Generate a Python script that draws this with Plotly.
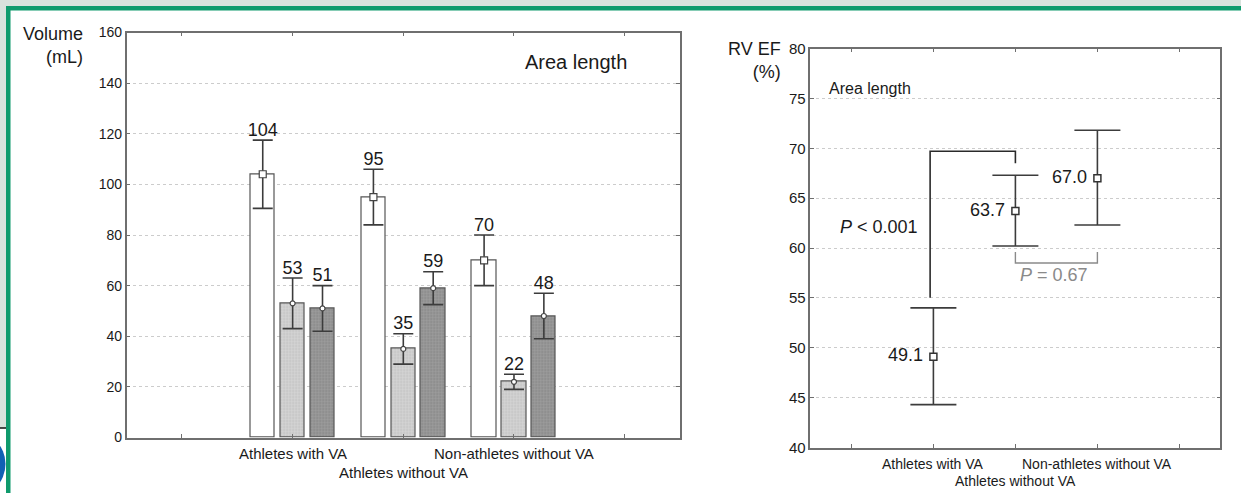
import plotly.graph_objects as go

# ---------------- data ----------------
groups = ["Athletes with VA", "Athletes without VA", "Non-athletes without VA"]
group_pos = [1, 2, 3]
label_row = [0, 1, 0]  # staggered category labels (0 = upper line, 1 = lower line)

# left panel: volumes (mL), area-length method
vol_white = [104, 95, 70]
vol_white_err = [13.5, 11, 10]
vol_light = [53, 35, 22]
vol_light_err = [10, 6, 3]
vol_dark = [51, 59, 48]
vol_dark_err = [9, 6.5, 9]

# right panel: RV EF (%)
ef_mean = [49.1, 63.7, 67.0]
ef_err_plus = [4.9, 3.6, 4.8]
ef_err_minus = [4.8, 3.5, 4.7]

left_yticks = [0, 20, 40, 60, 80, 100, 120, 140, 160]
right_yticks = [40, 45, 50, 55, 60, 65, 70, 75, 80]

# ---------------- styling helpers ----------------
W, H = 1241, 493
FONT = "Liberation Sans, Arial, sans-serif"
TXT = "#1a1a1a"
FRAME = "#6f6f6f"
ERR = "#3c3c3c"


def px_x(p):
    return p / W


def px_y(p):
    return 1 - p / H


offsets = [-0.27, 0.0, 0.27]
bar_w = 0.22

fig = go.Figure()

# ---- left panel bars ----
series = [
    (vol_white, vol_white_err, "white", None, True),
    (vol_light, vol_light_err, "#d4d4d4", "#a8a8a8", False),
    (vol_dark, vol_dark_err, "#9c9c9c", "#6a6a6a", False),
]
for (vals, errs, bg, fg, sq), off in zip(series, offsets):
    xs = [g + off for g in group_pos]
    marker = dict(color=bg, line=dict(color="#555555", width=1.2))
    if fg is not None:
        marker["pattern"] = dict(shape=".", fgcolor=fg, bgcolor=bg, size=3, solidity=0.35)
    fig.add_trace(go.Bar(
        x=xs, y=vals, width=bar_w, marker=marker,
        error_y=dict(type="data", array=errs, visible=True, color=ERR, thickness=1.6, width=10),
        xaxis="x", yaxis="y", showlegend=False, hoverinfo="skip",
    ))
    fig.add_trace(go.Scatter(
        x=xs, y=vals, mode="markers",
        marker=dict(symbol="square" if sq else "circle", size=7 if sq else 5,
                    color="white", line=dict(color="#444", width=1.2)),
        xaxis="x", yaxis="y", showlegend=False, hoverinfo="skip",
    ))
    fig.add_trace(go.Scatter(
        x=xs, y=[v + e for v, e in zip(vals, errs)], mode="text",
        text=[f"{v:g}" for v in vals], textposition="top center",
        textfont=dict(family=FONT, size=18, color=TXT),
        xaxis="x", yaxis="y", showlegend=False, hoverinfo="skip",
    ))

# ---- right panel points ----
fig.add_trace(go.Scatter(
    x=group_pos, y=ef_mean, mode="markers+text",
    text=[f"{v:.1f} " for v in ef_mean], textposition="middle left",
    textfont=dict(family=FONT, size=18, color=TXT),
    marker=dict(symbol="square", size=7, color="white", line=dict(color="#333", width=1.5)),
    error_y=dict(type="data", array=ef_err_plus, arrayminus=ef_err_minus, visible=True,
                 color=ERR, thickness=1.6, width=23),
    xaxis="x2", yaxis="y2", showlegend=False, hoverinfo="skip",
))

tickvals_x = [0, 1, 2, 3, 4]

axis_common = dict(showline=True, linecolor=FRAME, linewidth=1.5, mirror="ticks",
                   ticks="inside", ticklen=4, tickcolor=FRAME, zeroline=False, automargin=False)

fig.update_layout(
    width=W, height=H, autosize=False,
    margin=dict(l=0, r=0, t=0, b=0, autoexpand=False),
    paper_bgcolor="white", plot_bgcolor="white",
    bargap=0,
    xaxis=dict(domain=[px_x(126.6), px_x(680)], range=[-0.5, 4.5],
               tickvals=tickvals_x, showticklabels=False, showgrid=False,
               anchor="y", **axis_common),
    yaxis=dict(domain=[px_y(437.5), px_y(32.5)], range=[0, 160], tickvals=left_yticks,
               showgrid=True, gridcolor="#cccccc", griddash="dot", gridwidth=1,
               tickfont=dict(family=FONT, size=14, color=TXT), anchor="x", **axis_common),
    xaxis2=dict(domain=[px_x(810.4), px_x(1220.4)], range=[-0.5, 4.5],
                tickvals=tickvals_x, showticklabels=False, showgrid=False,
                anchor="y2", **axis_common),
    yaxis2=dict(domain=[px_y(447.5), px_y(48.5)], range=[40, 80], tickvals=right_yticks,
                showgrid=True, gridcolor="#cccccc", griddash="dot", gridwidth=1,
                tickfont=dict(family=FONT, size=15, color=TXT), anchor="x2", **axis_common),
)

ann = []
# category labels (staggered)
for g, pos, row in zip(groups, group_pos, label_row):
    ann.append(dict(xref="x", yref="paper", x=pos, y=px_y(453 + 19 * row), xanchor="center",
                    yanchor="middle", text=g, showarrow=False,
                    font=dict(family=FONT, size=15, color=TXT)))
    ann.append(dict(xref="x2", yref="paper", x=pos, y=px_y(464 + 16.5 * row), xanchor="center",
                    yanchor="middle", text=g, showarrow=False,
                    font=dict(family=FONT, size=14, color=TXT)))
ann.append(dict(xref="paper", yref="paper", x=px_x(85), y=px_y(22), xanchor="right", yanchor="top",
                text="Volume<br>(mL)", align="right", showarrow=False,
                font=dict(family=FONT, size=18, color=TXT)))
ann.append(dict(xref="paper", yref="paper", x=px_x(783), y=px_y(37), xanchor="right", yanchor="top",
                text="RV EF<br>(%)", align="right", showarrow=False,
                font=dict(family=FONT, size=18, color=TXT)))
ann.append(dict(xref="x", yref="y", x=3.08, y=148.4, xanchor="left", yanchor="middle",
                text="Area length", showarrow=False, font=dict(family=FONT, size=20, color=TXT)))
ann.append(dict(xref="x2", yref="y2", x=-0.3, y=76, xanchor="left", yanchor="middle",
                text="Area length", showarrow=False, font=dict(family=FONT, size=16, color=TXT)))
ann.append(dict(xref="x2", yref="y2", x=0.84, y=62.1, xanchor="right", yanchor="middle",
                text="<i>P</i> < 0.001", showarrow=False, font=dict(family=FONT, size=18, color=TXT)))
ann.append(dict(xref="x2", yref="y2", x=2.47, y=57.3, xanchor="center", yanchor="middle",
                text="<i>P</i> = 0.67", showarrow=False, font=dict(family=FONT, size=18, color="#8a8a8a")))
fig.update_layout(annotations=ann)

shapes = []
# significance brackets
shapes.append(dict(type="path", xref="x2", yref="y2",
                   path="M 0.96 55 L 0.96 69.7 L 2 69.7 L 2 68.5",
                   line=dict(color="#2a2a2a", width=1.6)))
shapes.append(dict(type="path", xref="x2", yref="y2",
                   path="M 2 59.6 L 2 58.5 L 3 58.5 L 3 59.6",
                   line=dict(color="#8a8a8a", width=1.4)))

# slide decoration (green frame, textured strips)
shapes.append(dict(type="rect", xref="paper", yref="paper", x0=0, x1=1, y0=px_y(6), y1=1,
                   fillcolor="#d9e2dc", line=dict(width=0), layer="below"))
shapes.append(dict(type="rect", xref="paper", yref="paper", x0=0, x1=px_x(6), y0=px_y(428), y1=1,
                   fillcolor="#d9e2dc", line=dict(width=0), layer="below"))
shapes.append(dict(type="rect", xref="paper", yref="paper", x0=px_x(6), x1=1, y0=px_y(10.5), y1=px_y(6),
                   fillcolor="#0f9a6c", line=dict(width=0)))
shapes.append(dict(type="rect", xref="paper", yref="paper", x0=px_x(6), x1=px_x(10.5), y0=0, y1=px_y(6),
                   fillcolor="#0f9a6c", line=dict(width=0)))
shapes.append(dict(type="line", xref="paper", yref="paper", x0=0, x1=px_x(6), y0=px_y(428), y1=px_y(428),
                   line=dict(color="#111", width=1.5)))
shapes.append(dict(type="circle", xref="paper", yref="paper", x0=px_x(-61), x1=px_x(5.5),
                   y0=px_y(497), y1=px_y(431), fillcolor="#1060b4", line=dict(width=0)))
fig.update_layout(shapes=shapes)

fig.write_html(
    "out.html",
    config={"displayModeBar": False},
    post_script="document.body.style.margin='0';document.body.style.overflow='hidden';",
)
